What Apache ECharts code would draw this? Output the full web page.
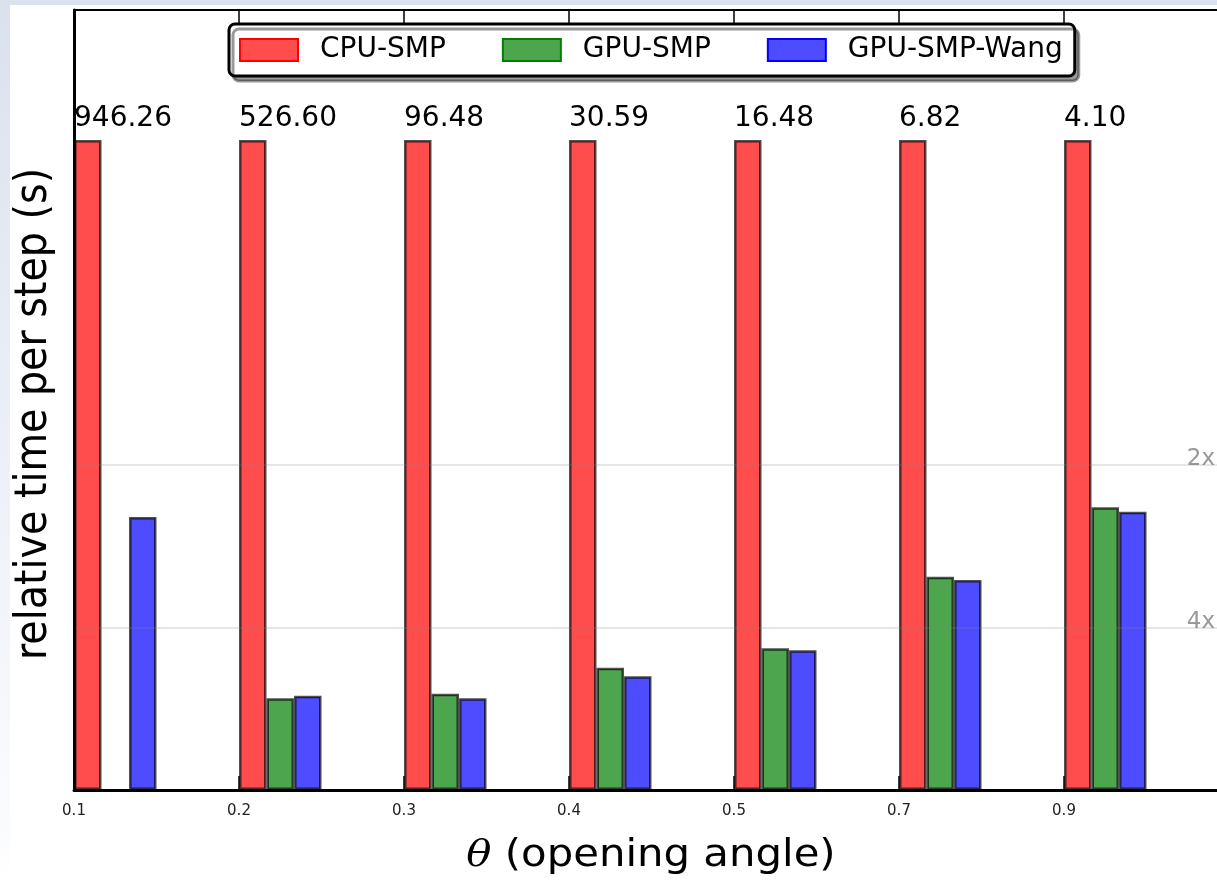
<!DOCTYPE html>
<html>
<head>
<meta charset="utf-8">
<script src="https://cdn.jsdelivr.net/npm/echarts@6/dist/echarts.min.js"></script>
<style>
html,body{margin:0;padding:0;background:#fff;overflow:hidden;width:1217px;height:880px;}
#c{width:1240px;height:880px;}
</style>
</head>
<body>
<div id="c"></div>
<script>
// ---- data ----
const categories = ['0.1', '0.2', '0.3', '0.4', '0.5', '0.7', '0.9'];
const tickLabels = ['0.1', '0.2', '0.3', '0.4', '0.5', '0.7', '0.9', ''];
const seriesNames = ['CPU-SMP', 'GPU-SMP', 'GPU-SMP-Wang'];
const cpuSeconds = [946.26, 526.60, 96.48, 30.59, 16.48, 6.82, 4.10];
const cpuRelative = [1, 1, 1, 1, 1, 1, 1];
const gpuRelative = [null, 0.141, 0.148, 0.188, 0.218, 0.328, 0.435];
const wangRelative = [0.420, 0.145, 0.141, 0.175, 0.215, 0.323, 0.428];
const speedups = [2, 4];
const speedupLabels = ['2x', '4x'];

const FONT = 'DejaVu Sans';
const edge = 'rgba(0,0,0,0.68)';
const chart = echarts.init(document.getElementById('c'), null, {renderer: 'canvas'});

function barSeries(name, data, color, extra) {
  return Object.assign({
    name: name, type: 'bar', xAxisIndex: 0, yAxisIndex: 0, data: data,
    barGap: '0%', barCategoryGap: '0%',
    itemStyle: {color: color, borderColor: edge, borderWidth: 2.5},
    emphasis: {disabled: true}, animation: false
  }, extra || {});
}

const option = {
  animation: false,
  grid: {left: 74, top: 10, width: 1155, height: 780, containLabel: false},
  legend: {
    left: 229, top: 24, orient: 'horizontal',
    padding: [12, 12, 12, 10],
    itemWidth: 58, itemHeight: 22, itemGap: 56,
    icon: 'rect',
    backgroundColor: '#fff', borderColor: '#000', borderWidth: 3, borderRadius: 6,
    shadowColor: 'rgba(0,0,0,0.4)', shadowOffsetX: 4, shadowOffsetY: 5, shadowBlur: 0,
    textStyle: {fontSize: 28, fontFamily: FONT, color: '#000', padding: [0, 0, 0, 17]},
    selectedMode: false,
    data: [
      {name: seriesNames[0], itemStyle: {borderColor: 'rgb(255,0,0)', borderWidth: 2}},
      {name: seriesNames[1], itemStyle: {borderColor: 'rgb(0,128,0)', borderWidth: 2}},
      {name: seriesNames[2], itemStyle: {borderColor: 'rgb(0,0,255)', borderWidth: 2}}
    ]
  },
  xAxis: [
    {
      type: 'category', data: categories, position: 'bottom', boundaryGap: true,
      axisLine: {show: true, lineStyle: {color: '#000', width: 3}},
      axisTick: {show: true, inside: true, length: 14, alignWithLabel: false, lineStyle: {color: '#000', width: 1.5}},
      axisLabel: {show: false}, splitLine: {show: false}, z: 10
    },
    {
      type: 'category', data: tickLabels, position: 'bottom', boundaryGap: false,
      axisLine: {show: false}, axisTick: {show: false},
      axisLabel: {show: true, fontSize: 15, fontFamily: FONT, color: '#222', margin: 14, interval: 0},
      splitLine: {show: false}
    },
    {
      type: 'category', data: categories, position: 'top', boundaryGap: true,
      axisLine: {show: true, lineStyle: {color: '#000', width: 2}},
      axisTick: {show: true, inside: true, length: 14, alignWithLabel: false, lineStyle: {color: '#000', width: 1.5}},
      axisLabel: {show: false}, splitLine: {show: false}
    }
  ],
  yAxis: {
    type: 'value', min: 0, max: 1.2,
    axisLine: {show: true, lineStyle: {color: '#000', width: 3}},
    axisTick: {show: false}, axisLabel: {show: false}, splitLine: {show: false}, z: 10
  },
  series: [
    barSeries(seriesNames[0], cpuRelative, 'rgb(255,77,77)', {
      label: {
        show: true, position: [0, -7], align: 'left', verticalAlign: 'bottom',
        fontSize: 28, fontFamily: FONT, color: '#000',
        formatter: p => cpuSeconds[p.dataIndex].toFixed(2)
      },
      markLine: {
        silent: true, symbol: 'none', animation: false,
        label: {show: false},
        lineStyle: {color: 'rgba(128,128,128,0.2)', type: 'solid', width: 2},
        data: speedups.map(s => ({yAxis: 1 / s}))
      }
    }),
    barSeries(seriesNames[1], gpuRelative, 'rgb(77,166,77)'),
    barSeries(seriesNames[2], wangRelative, 'rgb(77,77,255)'),
    barSeries('_pad1', [], 'transparent', {silent: true}),
    barSeries('_pad2', [], 'transparent', {silent: true}),
    barSeries('_pad3', [], 'transparent', {silent: true})
  ],
  graphic: [
    {type: 'rect', id: 'bg', z: -100, silent: true,
      shape: {x: 0, y: 0, width: 1240, height: 880},
      style: {fill: new echarts.graphic.LinearGradient(0, 0, 0, 1, [
        {offset: 0, color: '#dbe1ed'}, {offset: 0.95, color: '#fbfcfe'}, {offset: 1, color: '#ffffff'}])}},
    {type: 'rect', id: 'paper', z: -99, silent: true,
      shape: {x: 10, y: 5, width: 1230, height: 875}, style: {fill: '#fff'}},
    {type: 'text', id: 'ytitle', x: 34, y: 414, rotation: Math.PI / 2, scaleX: 0.88,
      style: {text: 'relative time per step (s)', fontSize: 45, fontFamily: FONT, fill: '#000',
        align: 'center', verticalAlign: 'middle'}},
    {type: 'text', id: 'xtitle', x: 651, y: 856, scaleX: 1.13,
      style: {text: '{i|θ} (opening angle)', fontSize: 37, fontFamily: FONT, fill: '#000',
        align: 'center', verticalAlign: 'middle',
        rich: {i: {fontFamily: 'DejaVu Serif', fontStyle: 'italic', fontSize: 37, fill: '#000'}}}}
  ]
};
chart.setOption(option);

const extraTexts = speedups.map((s, i) => {
  const py = chart.convertToPixel({yAxisIndex: 0}, 1 / s);
  return {type: 'text', id: 'sp' + i, x: 1215, y: py + 6, silent: true,
    style: {text: speedupLabels[i], fontSize: 23, fontFamily: FONT, fill: '#999',
      align: 'right', verticalAlign: 'bottom'}};
});
chart.setOption({graphic: extraTexts});
</script>
</body>
</html>
